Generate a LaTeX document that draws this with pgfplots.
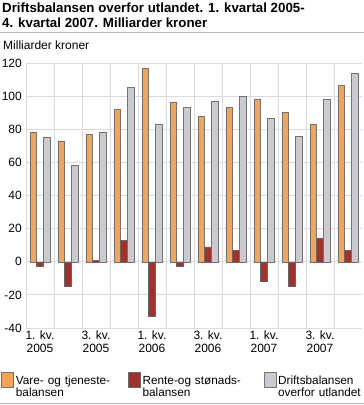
\documentclass[border=0pt]{standalone}
\usepackage{fontspec}
\setmainfont{Liberation Sans}
\usepackage{pgfplots}
\pgfplotsset{compat=1.18}
\definecolor{vare}{HTML}{F5A552}
\definecolor{rente}{HTML}{A3302B}
\definecolor{drift}{HTML}{C8CAD0}
\definecolor{gridc}{HTML}{D9DBDF}
\begin{document}
\begin{tikzpicture}
\useasboundingbox (0pt,0pt) rectangle (364pt,-405pt);
\node[anchor=north west, inner sep=0pt, align=left, font=\bfseries\fontsize{13.3}{15}\selectfont] at (2pt,-3pt) {Driftsbalansen overfor utlandet. 1. kvartal 2005-\\4. kvartal 2007. Milliarder kroner};
\draw[gray!55, line width=0.8pt] (0pt,-32.5pt) -- (364pt,-32.5pt);
\node[anchor=north west, inner sep=0pt, font=\fontsize{12}{14}\selectfont] at (3pt,-41pt) {Milliarder kroner};
\draw[gray!55, line width=0.8pt] (0pt,-403pt) -- (364pt,-403pt);
\begin{axis}[at={(26pt,-328pt)}, anchor=south west, width=336pt, height=265pt, scale only axis,
  ybar=0pt, bar width=6.8pt,
  xmin=-0.5, xmax=11.5, ymin=-40, ymax=120, ytick={-40,-20,...,120},
  xtick={0,2,4,6,8,10},
  xticklabels={{1. kv.\\2005},{3. kv.\\2005},{1. kv.\\2006},{3. kv.\\2006},{1. kv.\\2007},{3. kv.\\2007}},
  minor xtick={-0.5,0.5,1.5,2.5,3.5,4.5,5.5,6.5,7.5,8.5,9.5,10.5},
  ymajorgrids, xminorgrids,
  grid style={gridc, line width=0.8pt},
  minor grid style={gridc, line width=0.8pt},
  axis line style={draw=none},
  major tick length=0pt, minor tick length=0pt,
  tick label style={font=\fontsize{12}{12.5}\selectfont},
  yticklabel style={anchor=east, inner sep=0pt, xshift=-4pt},
  xticklabel style={align=center, anchor=north, inner sep=0pt, yshift=-3pt},
  /pgf/number format/assume math mode=true,
  legend columns=3,
  legend style={at={(-0.074,-0.166)}, anchor=north west, draw=none, fill=none, inner sep=0pt,
    font=\fontsize{11.8}{12.5}\selectfont,
    cells={anchor=north west, align=left},
    /tikz/every even column/.append style={column sep=0pt}},
  legend image code/.code={\draw[#1, line width=0.6pt] (0pt,-14pt) rectangle (12pt,1pt);},
]
\addplot[fill=vare, draw=black!55, line width=0.5pt] coordinates {
(0,78) (1,73) (2,77) (3,92) (4,117) (5,96.5) (6,88) (7,93.3) (8,98.4) (9,90.3) (10,83.2) (11,106.5)};
\addlegendentry[text width=110pt, xshift=6pt]{Vare- og tjeneste-\\balansen}
\addplot[fill=rente, draw=black!60, line width=0.5pt] coordinates {
(0,-3) (1,-15) (2,1) (3,13) (4,-33) (5,-3) (6,9) (7,7) (8,-12) (9,-15) (10,14) (11,7)};
\addlegendentry[text width=119pt, xshift=5pt]{Rente-og stønads-\\balansen}
\addplot[fill=drift, draw=black!55, line width=0.5pt] coordinates {
(0,75.4) (1,58) (2,78.4) (3,105.2) (4,83.2) (5,93.3) (6,97) (7,100) (8,86.5) (9,75.6) (10,98.4) (11,113.7)};
\addlegendentry[text width=84pt, xshift=3pt]{Driftsbalansen\\overfor utlandet}
\end{axis}
\end{tikzpicture}
\end{document}
